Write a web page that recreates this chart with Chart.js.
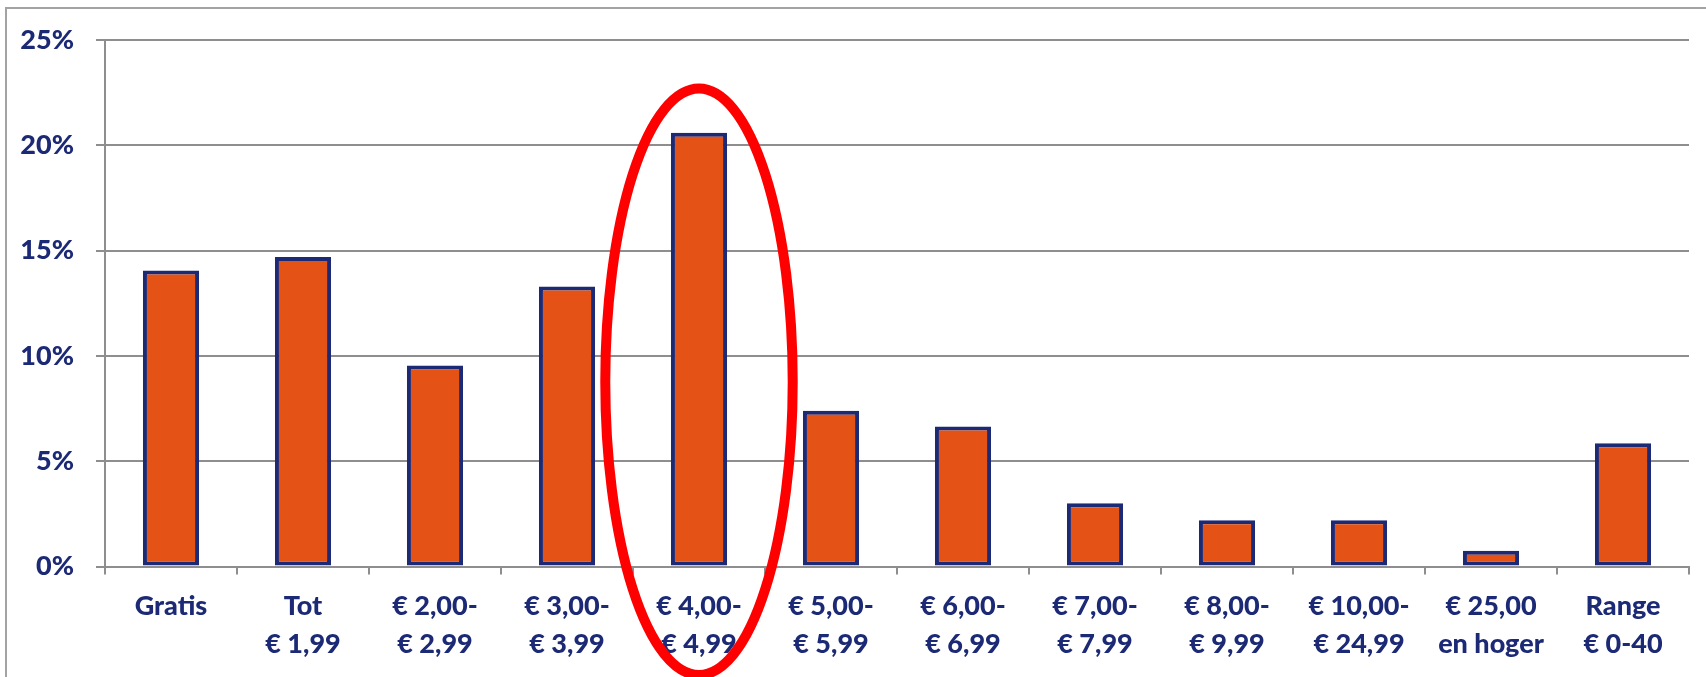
<!DOCTYPE html>
<html>
<head>
<meta charset="utf-8">
<script src="https://cdn.jsdelivr.net/npm/chart.js@4/dist/chart.umd.min.js"></script>
<style>
  html, body { margin: 0; padding: 0; background: #fff; overflow: hidden; }
  .frame {
    position: absolute; left: 5px; top: 7px; width: 1800px; height: 800px;
    border-top: 2px solid #a3a3a3; border-left: 2px solid #a3a3a3;
  }
  canvas { position: absolute; left: 0; top: 0; }
</style>
</head>
<body>
<div class="frame"></div>
<canvas id="priceChart" width="1706" height="677"></canvas>
<script>
// --- data ---
const categories = [
  ['Gratis'],
  ['Tot', '€ 1,99'],
  ['€ 2,00-', '€ 2,99'],
  ['€ 3,00-', '€ 3,99'],
  ['€ 4,00-', '€ 4,99'],
  ['€ 5,00-', '€ 5,99'],
  ['€ 6,00-', '€ 6,99'],
  ['€ 7,00-', '€ 7,99'],
  ['€ 8,00-', '€ 9,99'],
  ['€ 10,00-', '€ 24,99'],
  ['€ 25,00', 'en hoger'],
  ['Range', '€ 0-40']
];
const shares = [14.05, 14.7, 9.55, 13.3, 20.6, 7.4, 6.65, 3.0, 2.2, 2.2, 0.75, 5.85];
const yMin = 0;
const yMax = 25;
const yStep = 5;

// the red ring round one category, in data units
const highlightIndex = 4;
const ringTop = 22.7;
const ringBottom = -5.15;
const ringHalfWidth = 0.71;

const NAVY = '#1c2a76';
const ORANGE = '#e55215';
const GRID = '#8e8e8e';

// Draws the red ellipse over the highlighted bar
const ringPlugin = {
  id: 'ring',
  afterDraw(chart) {
    const x = chart.scales.x, y = chart.scales.y;
    const cx = x.getPixelForValue(highlightIndex);
    const step = x.getPixelForValue(1) - x.getPixelForValue(0);
    const top = y.getPixelForValue(ringTop);
    const bottom = y.getPixelForValue(ringBottom);
    const ctx = chart.ctx;
    ctx.save();
    ctx.beginPath();
    ctx.ellipse(cx, (top + bottom) / 2, step * ringHalfWidth, (bottom - top) / 2, 0, 0, Math.PI * 2);
    ctx.strokeStyle = '#ff0000';
    ctx.lineWidth = 10;
    ctx.stroke();
    ctx.restore();
  }
};

const tickFont = { family: 'Lato', weight: '900', size: 27 };

new Chart(document.getElementById('priceChart'), {
  type: 'bar',
  data: {
    labels: categories,
    datasets: [{
      data: shares,
      backgroundColor: ORANGE,
      borderColor: NAVY,
      borderWidth: 4,
      borderSkipped: false,
      barPercentage: 0.425,
      categoryPercentage: 1
    }]
  },
  options: {
    responsive: false,
    animation: false,
    devicePixelRatio: 1,
    layout: { padding: { top: 40, right: 17, left: 0, bottom: 0 } },
    plugins: {
      legend: { display: false },
      tooltip: { enabled: false }
    },
    scales: {
      x: {
        grid: {
          drawOnChartArea: false,
          drawTicks: true,
          tickLength: 8,
          color: GRID,
          lineWidth: 2
        },
        border: { display: true, color: GRID, width: 2 },
        ticks: {
          color: NAVY,
          font: Object.assign({ lineHeight: 38 / 27 }, tickFont),
          padding: 13,
          maxRotation: 0,
          autoSkip: false
        },
        afterFit(scale) { scale.height = 110.5; }
      },
      y: {
        min: yMin,
        max: yMax,
        grid: {
          color: GRID,
          lineWidth: 2,
          tickLength: 9
        },
        border: { display: true, color: GRID, width: 2 },
        ticks: {
          stepSize: yStep,
          color: NAVY,
          font: tickFont,
          padding: 22,
          callback: v => v + '%'
        },
        afterFit(scale) { scale.width = 105; }
      }
    }
  },
  plugins: [ringPlugin]
});
</script>
</body>
</html>
